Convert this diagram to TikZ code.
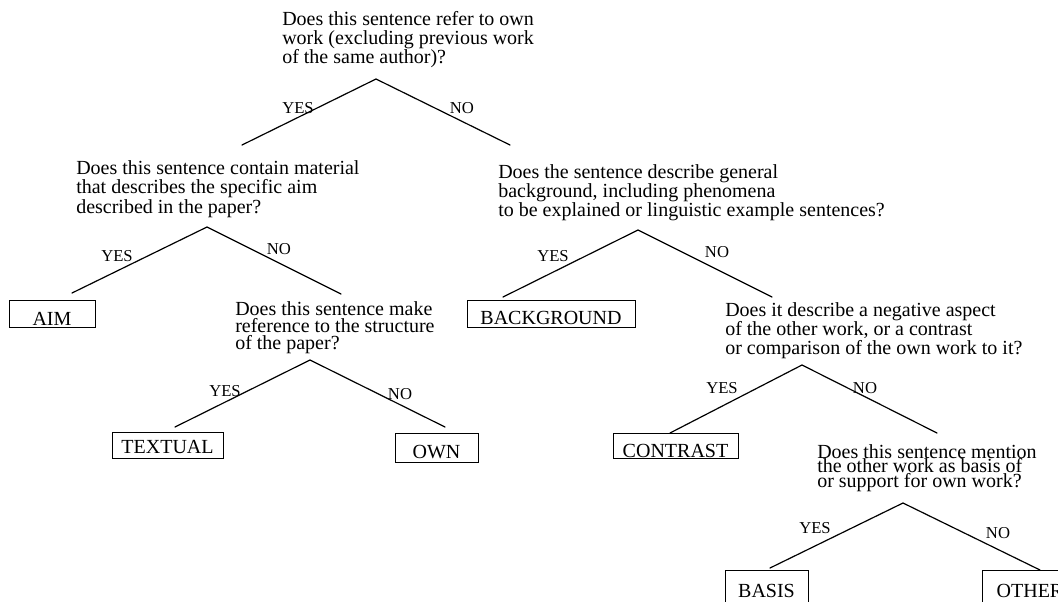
\documentclass[tikz,border=0pt]{standalone}
\usepackage{fontspec}
\setmainfont{Liberation Serif}
\begin{document}
\begin{tikzpicture}[x=0.75pt,y=-0.75pt,
  qtext/.style={anchor=north west, inner sep=0pt, align=left},
  branch/.style={line width=0.9pt, line cap=round},
  lab/.style={inner sep=0pt, font=\fontsize{12.5}{12.5}\selectfont},
  leafbox/.style={draw, line width=0.7pt, inner sep=0pt, font=\fontsize{15}{15}\selectfont, text depth=0pt}]
\useasboundingbox (0,0) rectangle (1058,601);
\clip (0,0) rectangle (1058,601);
\fill[white] (0,0) rectangle (1058,601);

% questions
\node[qtext, font=\fontsize{15}{14.25}\selectfont] (q1) at (282,11)
  {Does this sentence refer to own\\work (excluding previous work\\of the same author)?};
\node[qtext, font=\fontsize{15}{14.6}\selectfont] (q2) at (76,160)
  {Does this sentence contain material\\that describes the specific aim\\described in the paper?};
\node[qtext, font=\fontsize{15}{14.3}\selectfont] (q3) at (498,164)
  {Does the sentence describe general\\background, including phenomena\\to be explained or linguistic example sentences?};
\node[qtext, font=\fontsize{15}{12.8}\selectfont] (q4) at (235,301)
  {Does this sentence make\\reference to the structure\\of the paper?};
\node[qtext, font=\fontsize{15}{11.6}\selectfont] (q5) at (725,302)
  {Does it describe a negative aspect\\of the other work, or a contrast\\or comparison of the own work to it?};
\node[qtext, font=\fontsize{15}{10.9}\selectfont] (q6) at (817,444)
  {Does this sentence mention\\the other work as basis of\\or support for own work?};

% leaves
\node[leafbox, minimum width=64.5pt, minimum height=20.25pt, text height=17.25pt] (aim) at (52,313.5) {AIM};
\node[leafbox, minimum width=83.25pt, minimum height=19.5pt, text height=12pt] (textual) at (167.5,445) {TEXTUAL};
\node[leafbox, minimum width=62.25pt, minimum height=21.75pt, text height=15.75pt] (own) at (436.5,447.5) {OWN};
\node[leafbox, minimum width=126pt, minimum height=20.25pt, text height=15.75pt] (background) at (551,313.5) {BACKGROUND};
\node[leafbox, minimum width=93.75pt, minimum height=18.75pt, text height=17.25pt] (contrast) at (675.5,445.5) {CONTRAST};
\node[leafbox, minimum width=62.25pt, minimum height=25.5pt, text height=15pt] (basis) at (766.5,587) {BASIS};
\node[leafbox, minimum width=72pt, minimum height=25.5pt, text height=15pt] (other) at (1030,587) {OTHER};

% branch points
\coordinate (q1a) at (376,79);  \coordinate (q1y) at (242,145); \coordinate (q1n) at (510,145);
\coordinate (q2a) at (207,227); \coordinate (q2y) at (72,293);  \coordinate (q2n) at (341,294);
\coordinate (q4a) at (310,360); \coordinate (q4y) at (175,427); \coordinate (q4n) at (445,427);
\coordinate (q3a) at (638,230); \coordinate (q3y) at (503,297); \coordinate (q3n) at (772,297);
\coordinate (q5a) at (802,365); \coordinate (q5y) at (670,433); \coordinate (q5n) at (937,433);
\coordinate (q6a) at (903,503); \coordinate (q6y) at (770,568); \coordinate (q6n) at (1040,570);

\draw[branch] (q1y) -- (q1a) -- (q1n);
\draw[branch] (q2y) -- (q2a) -- (q2n);
\draw[branch] (q4y) -- (q4a) -- (q4n);
\draw[branch] (q3y) -- (q3a) -- (q3n);
\draw[branch] (q5y) -- (q5a) -- (q5n);
\draw[branch] (q6y) -- (q6a) -- (q6n);

% labels
\node[lab] (l1y) at (298,108) {YES};  \node[lab] (l1n) at (462,108) {NO};
\node[lab] (l2y) at (117,256) {YES};  \node[lab] (l2n) at (279,249) {NO};
\node[lab] (l4y) at (225,391) {YES};  \node[lab] (l4n) at (400,394) {NO};
\node[lab] (l3y) at (553,256) {YES};  \node[lab] (l3n) at (717,252) {NO};
\node[lab] (l5y) at (722,388) {YES};  \node[lab] (l5n) at (865,388) {NO};
\node[lab] (l6y) at (815,528) {YES};  \node[lab] (l6n) at (998,533) {NO};
\end{tikzpicture}
\end{document}
